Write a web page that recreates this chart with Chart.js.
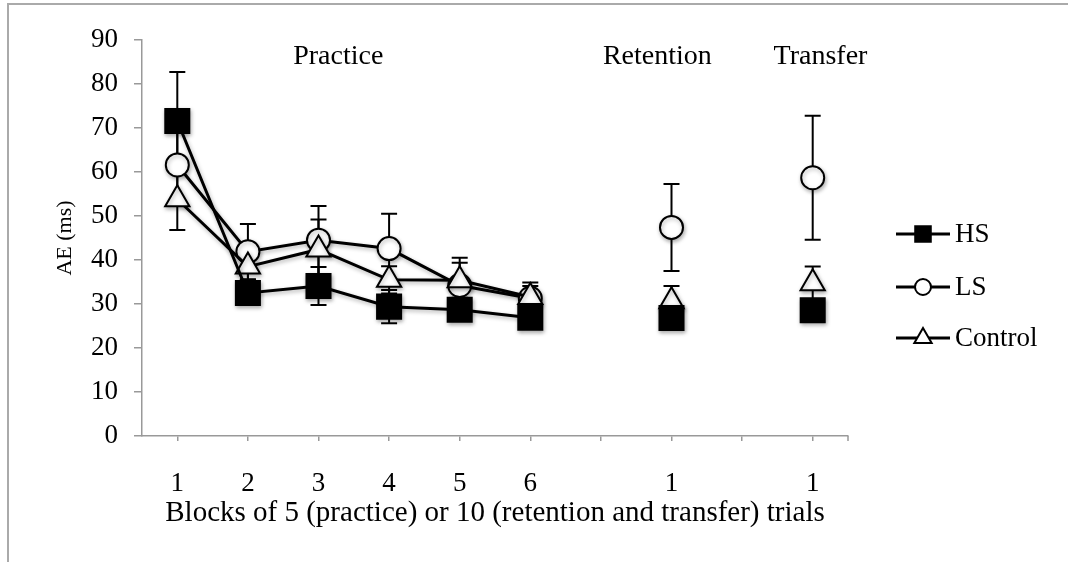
<!DOCTYPE html>
<html>
<head>
<meta charset="utf-8">
<script src="https://cdn.jsdelivr.net/npm/chart.js@4.4.1/dist/chart.umd.min.js"></script>
<style>
  html, body { margin: 0; padding: 0; background: #fff; }
  #wrap { position: relative; width: 1068px; height: 562px; }
  #frame { position: absolute; left: 7px; top: 3px; right: 0; bottom: 0;
           border-top: 2px solid #aaa; border-left: 2px solid #aaa; pointer-events: none; }
</style>
</head>
<body>
<div id="wrap">
  <canvas id="chart" width="1068" height="562"></canvas>
  <div id="frame"></div>
</div>
<script>
// blocks: 6 practice, gap, retention, gap, transfer
const blockLabels = ['1', '2', '3', '4', '5', '6', '', '1', '', '1'];
const yTicks = [0, 10, 20, 30, 40, 50, 60, 70, 80, 90];

const hsMean = [71.6, 32.5, 34.1, 29.4, 28.7, 26.9, null, 26.8, null, 28.6];
const hsErr = [11.1, 2, 4.3, 3.8, 2.5, 2, null, 2, null, 2];
const lsMean = [61.6, 41.9, 44.5, 42.6, 34.2, 31.3, null, 47.4, null, 58.7];
const lsErr = [8, 6.3, 7.8, 7.9, 6.3, 3.6, null, 9.9, null, 14.1];
const ctrlMean = [53.8, 38.5, 42.4, 35.5, 35.4, 31.6, null, 30.6, null, 34.7];
const ctrlErr = [7, 3, 6.8, 3.1, 4, 2.5, null, 3.5, null, 3.8];

const seriesNames = ['HS', 'LS', 'Control'];
const phaseNames = ['Practice', 'Retention', 'Transfer'];

const FONT = "'Liberation Serif', 'Times New Roman', serif";
const AXIS_GREY = '#999';

// error bars go under the lines and markers
const errorBarPlugin = {
  id: 'errorBars',
  beforeDatasetsDraw(chart) {
    const ctx = chart.ctx;
    const yScale = chart.scales.y;
    ctx.save();
    ctx.strokeStyle = '#000';
    ctx.lineWidth = 2;
    chart.data.datasets.forEach((ds, di) => {
      if (!ds.errors) return;
      const meta = chart.getDatasetMeta(di);
      ds.data.forEach((v, i) => {
        if (v === null || ds.errors[i] == null) return;
        const x = meta.data[i].x;
        const yt = yScale.getPixelForValue(v + ds.errors[i]);
        const yb = yScale.getPixelForValue(v - ds.errors[i]);
        ctx.beginPath();
        ctx.moveTo(x, yt); ctx.lineTo(x, yb);
        ctx.moveTo(x - 8, yt); ctx.lineTo(x + 8, yt);
        ctx.moveTo(x - 8, yb); ctx.lineTo(x + 8, yb);
        ctx.stroke();
      });
    });
    ctx.restore();
  }
};

// soft shadow like the original markers
const shadowPlugin = {
  id: 'softShadow',
  beforeDatasetDraw(chart) {
    const ctx = chart.ctx;
    ctx.save();
    ctx.shadowColor = 'rgba(0,0,0,0.3)';
    ctx.shadowBlur = 4;
    ctx.shadowOffsetX = 1;
    ctx.shadowOffsetY = 2;
  },
  afterDatasetDraw(chart) {
    chart.ctx.restore();
  }
};

// phase headings, legend and the closing tick of the x axis
const decorPlugin = {
  id: 'decor',
  afterDraw(chart) {
    const ctx = chart.ctx;
    const area = chart.chartArea;
    const xScale = chart.scales.x;

    ctx.save();
    ctx.strokeStyle = AXIS_GREY;
    ctx.lineWidth = 1.5;
    ctx.beginPath();
    ctx.moveTo(area.right, area.bottom);
    ctx.lineTo(area.right, area.bottom + 5);
    ctx.stroke();

    ctx.fillStyle = '#000';
    ctx.font = '28px ' + FONT;
    ctx.textAlign = 'center';
    ctx.textBaseline = 'middle';
    const phaseAt = [2.28, 6.8, 9.11];
    phaseNames.forEach((name, i) => {
      ctx.fillText(name, xScale.getPixelForValue(phaseAt[i]), area.top + 17);
    });

    const styles = [
      { pointStyle: 'rect', radius: 11, fill: '#000' },
      { pointStyle: 'circle', radius: 8, fill: '#fff' },
      { pointStyle: 'triangle', radius: 10, fill: '#fff' }
    ];
    const rows = [194, 247, 298];
    ctx.textAlign = 'left';
    ctx.font = '27px ' + FONT;
    seriesNames.forEach((name, i) => {
      const y = area.top + rows[i];
      const x0 = area.right + 48;
      const x1 = area.right + 102;
      ctx.strokeStyle = '#000';
      ctx.lineWidth = 3;
      ctx.beginPath();
      ctx.moveTo(x0, y); ctx.lineTo(x1, y);
      ctx.stroke();
      ctx.fillStyle = styles[i].fill;
      ctx.lineWidth = 2;
      Chart.helpers.drawPoint(ctx, {
        pointStyle: styles[i].pointStyle,
        radius: styles[i].radius,
        rotation: 0,
        borderWidth: 2
      }, (x0 + x1) / 2, y);
      ctx.fillStyle = '#000';
      ctx.fillText(name, x1 + 5, y + 1);
    });
    ctx.restore();
  }
};

function series(label, data, errors, style, fill, radius, order) {
  return {
    label: label,
    data: data,
    errors: errors,
    order: order,
    borderColor: '#000',
    borderWidth: 3,
    pointStyle: style,
    pointRadius: radius,
    pointBackgroundColor: fill,
    pointBorderColor: '#000',
    pointBorderWidth: 2,
    spanGaps: false,
    tension: 0
  };
}

new Chart(document.getElementById('chart'), {
  type: 'line',
  data: {
    labels: blockLabels,
    datasets: [
      series(seriesNames[0], hsMean, hsErr, 'rect', '#000', 17, 0),
      series(seriesNames[1], lsMean, lsErr, 'circle', '#fff', 11.5, 2),
      series(seriesNames[2], ctrlMean, ctrlErr, 'triangle', '#fff', 14, 1)
    ]
  },
  options: {
    responsive: false,
    animation: false,
    events: [],
    layout: { padding: { left: 0, top: 40, right: 220, bottom: 0 } },
    plugins: {
      legend: { display: false },
      tooltip: { enabled: false }
    },
    scales: {
      x: {
        offset: true,
        afterFit(scale) { scale.height = 126; },
        grid: { offset: false, drawOnChartArea: false, drawTicks: true, tickLength: 5, color: AXIS_GREY, lineWidth: 1.5 },
        border: { display: true, color: AXIS_GREY, width: 1.5 },
        ticks: { color: '#000', font: { family: FONT, size: 27 }, padding: 27, maxRotation: 0, autoSkip: false },
        title: {
          display: true,
          text: 'Blocks of 5 (practice) or 10 (retention and transfer) trials',
          color: '#000',
          font: { family: FONT, size: 29 },
          padding: { top: 0, bottom: 31 }
        }
      },
      y: {
        min: yTicks[0],
        max: yTicks[yTicks.length - 1],
        afterFit(scale) { scale.width = 142; },
        afterBuildTicks(scale) { scale.ticks = yTicks.map(v => ({ value: v })); },
        grid: { drawOnChartArea: false, drawTicks: true, tickLength: 8, color: AXIS_GREY, lineWidth: 1.5 },
        border: { display: true, color: AXIS_GREY, width: 1.5 },
        ticks: { color: '#000', font: { family: FONT, size: 27 }, padding: 16 },
        title: {
          display: true,
          text: 'AE (ms)',
          color: '#000',
          font: { family: FONT, size: 22 },
          padding: { top: 52, bottom: 0 }
        }
      }
    }
  },
  plugins: [errorBarPlugin, shadowPlugin, decorPlugin]
});
</script>
</body>
</html>
